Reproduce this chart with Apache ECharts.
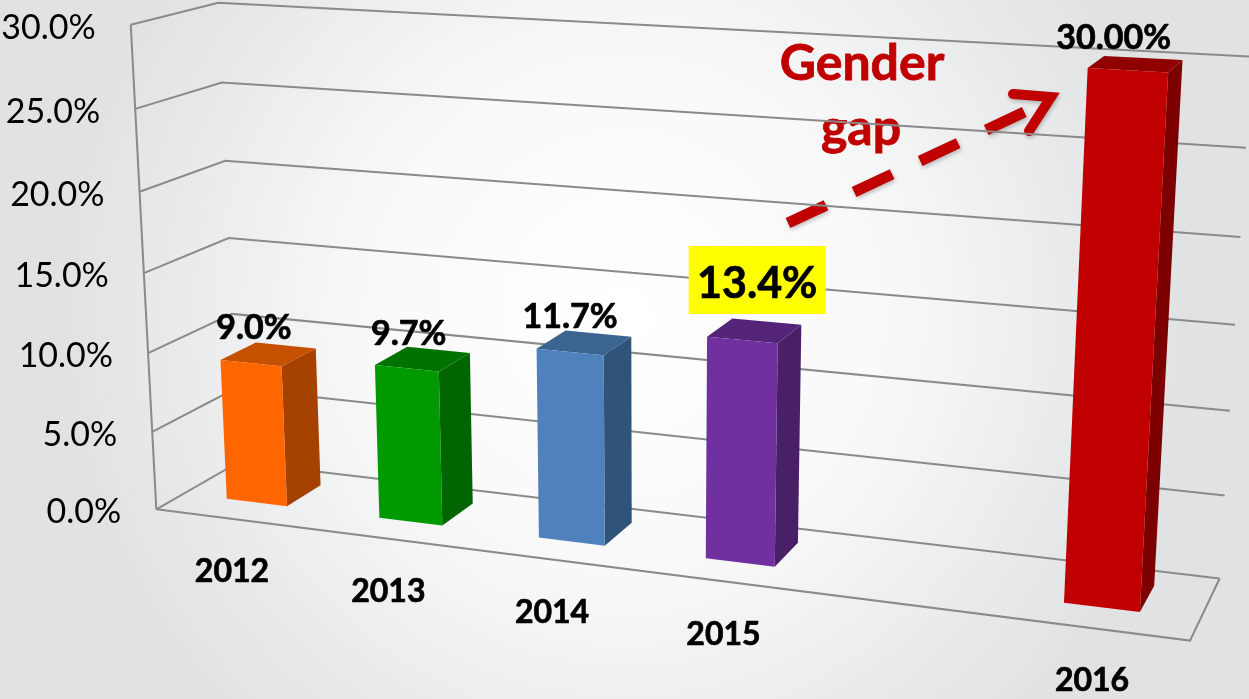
<!DOCTYPE html>
<html><head><meta charset="utf-8">
<style>html,body{margin:0;padding:0;background:#fff}#c{width:1249px;height:699px}</style>
<script src="https://cdn.jsdelivr.net/npm/echarts@6/dist/echarts.min.js"></script>
</head><body><div id="c"></div>
<script>
const categories = ['2012','2013','2014','2015','','2016'];
const values = [9.0, 9.7, 11.7, 13.4, null, 30.0];
const valueLabels = ['9.0%','9.7%','11.7%','13.4%','','30.00%'];
const yTicks = [0,5,10,15,20,25,30];
const yTickLabels = ['0.0%','5.0%','10.0%','15.0%','20.0%','25.0%','30.0%'];

const W = 1249, H = 699, FONT = 'Lato, Carlito, sans-serif';
const faceColors = ['#FF6600','#009900','#4F81BD','#7030A0',null,'#C00000'];
const sideColors = ['#A64200','#006400','#305379','#491F68',null,'#7C0000'];
const topColors  = ['#C45000','#007200','#3C6491','#542478',null,'#900000'];
const labelShift = [[3,-35],[2,-34],[0,-35],[15,-56],null,[-14,-32]];

// Perspective camera: cube corners (x,y,z in 0..1) to where they appear on the page.
const camera = [
 [0,0,0,158,508],[0,0,0,158,508],[1,0,0,1190,643],[0,0,1,235,465],[1,0,1,1220,576],
 [0,1,0,129,25],[0,1,0,129,25],[0,1,1,222,2],[1,1,1,1251,57]
];
function solve(A,b){const n=b.length;for(let i=0;i<n;i++){let p=i;for(let r=i+1;r<n;r++)if(Math.abs(A[r][i])>Math.abs(A[p][i]))p=r;
 [A[i],A[p]]=[A[p],A[i]];[b[i],b[p]]=[b[p],b[i]];
 for(let r=i+1;r<n;r++){const f=A[r][i]/A[i][i];for(let c=i;c<n;c++)A[r][c]-=f*A[i][c];b[r]-=f*b[i];}}
 const x=new Array(n).fill(0);for(let i=n-1;i>=0;i--){let s=b[i];for(let c=i+1;c<n;c++)s-=A[i][c]*x[c];x[i]=s/A[i][i];}return x;}
function fitCamera(pts){const rows=[],rhs=[];
 pts.forEach(([X,Y,Z,u0,v0])=>{const u=u0/1000,v=v0/1000;
  rows.push([X,Y,Z,1,0,0,0,0,-u*X,-u*Y,-u*Z]);rhs.push(u);
  rows.push([0,0,0,0,X,Y,Z,1,-v*X,-v*Y,-v*Z]);rhs.push(v);});
 const N=Array.from({length:11},()=>new Array(11).fill(0)),B=new Array(11).fill(0);
 rows.forEach((r,k)=>{for(let i=0;i<11;i++){B[i]+=r[i]*rhs[k];for(let j=0;j<11;j++)N[i][j]+=r[i]*r[j];}});
 return solve(N,B);}
const M = fitCamera(camera);
function project(X,Y,Z){const d=M[8]*X+M[9]*Y+M[10]*Z+1;
 return [1000*(M[0]*X+M[1]*Y+M[2]*Z+M[3])/d,1000*(M[4]*X+M[5]*Y+M[6]*Z+M[7])/d];}
// hidden cartesian grid fills the page, so its pixels normalise to cube units
function toCube(api,cat,val){const p=api.coord([cat,val]);return [p[0]/W,1-p[1]/H];}

const Z_FRONT=0.325, Z_BACK=0.76, BAR_FRAC=0.40, BAR_SHIFT=-0.002;
const lineStyle={stroke:'#8A8A8A',lineWidth:2,fill:null};
const heavy={stroke:'#000',lineWidth:0.7};

function renderFrame(params,api){
 const t=api.value(1), y=toCube(api,0,t)[1];
 const kids=[{type:'polyline',shape:{points:[project(0,y,0),project(0,y,1),project(1,y,1)]},style:lineStyle}];
 if(t===0){
  kids.push({type:'polyline',shape:{points:[project(0,0,0),project(1,0,0),project(1,0,1)]},style:lineStyle});
  kids.push({type:'line',shape:{x1:project(0,0,0)[0],y1:project(0,0,0)[1],x2:project(0,1,0)[0],y2:project(0,1,0)[1]},style:lineStyle});
 }
 const a=project(0,y,0);
 kids.push({type:'text',style:{x:a[0]-35,y:a[1]+3,text:yTickLabels[params.dataIndex],align:'right',verticalAlign:'middle',font:'34px '+FONT,fill:'#000'}});
 return {type:'group',children:kids};
}
function renderBar(params,api){
 const i=api.value(0), v=api.value(1);
 const bw=api.size([1,0])[0]/W*BAR_FRAC;
 const X=toCube(api,i,0)[0]+BAR_SHIFT, yb=toCube(api,i,0)[1], yt=toCube(api,i,v)[1];
 const x0=X-bw/2,x1=X+bw/2,z0=Z_FRONT,z1=Z_BACK;
 const poly=(pts,fill)=>({type:'polygon',shape:{points:pts},style:{fill:fill}});
 const kids=[
  poly([project(x1,yb,z0),project(x1,yb,z1),project(x1,yt,z1),project(x1,yt,z0)],sideColors[i]),
  poly([project(x0,yt,z0),project(x1,yt,z0),project(x1,yt,z1),project(x0,yt,z1)],topColors[i]),
  poly([project(x0,yb,z0),project(x1,yb,z0),project(x1,yt,z0),project(x0,yt,z0)],faceColors[i])
 ];
 const c=project(X,yt,z0), sh=labelShift[i], lx=c[0]+sh[0], ly=c[1]+sh[1];
 if(i===3) kids.push({type:'rect',shape:{x:lx-68.5,y:ly-38,width:137,height:68},style:{fill:'#FFFF00'}});
 kids.push({type:'text',style:Object.assign({x:lx,y:ly,text:valueLabels[i],align:'center',verticalAlign:'middle',font:'bold '+(i===3?43:34)+'px '+FONT,fill:'#000'},heavy)});
 return {type:'group',children:kids};
}
function renderCat(params,api){
 const i=api.value(0), X=toCube(api,i,0)[0], a=project(X,0,0);
 return {type:'text',style:Object.assign({x:a[0],y:a[1]+53,text:categories[i],align:'center',verticalAlign:'middle',font:'bold 32px '+FONT,fill:'#000'},heavy)};
}
const barData=values.map((v,i)=>[i,v]).filter(d=>d[1]!==null);

const chart=echarts.init(document.getElementById('c'),null,{renderer:'canvas'});
chart.setOption({
 animation:false,
 backgroundColor:new echarts.graphic.RadialGradient(0.5,0.45,0.8,[
  {offset:0,color:'#FFFFFF'},{offset:0.45,color:'#F9F9F9'},{offset:1,color:'#E0E2E4'}]),
 grid:{left:0,right:0,top:0,bottom:0},
 xAxis:{type:'category',data:categories,show:false},
 yAxis:{type:'value',min:0,max:30,interval:5,show:false},
 graphic:{elements:[
  {type:'text',silent:true,style:{x:862,y:64,text:'Gender',align:'center',verticalAlign:'middle',font:'bold 50px '+FONT,fill:'#C00000',stroke:'#C00000',lineWidth:0.8}},
  {type:'text',silent:true,style:{x:861,y:129,text:'gap',align:'center',verticalAlign:'middle',font:'bold 50px '+FONT,fill:'#C00000',stroke:'#C00000',lineWidth:0.8}},
  {type:'polyline',silent:true,shape:{points:[[788,223],[1033,108]]},
   style:{stroke:'#C00000',lineWidth:11,lineDash:[42,31],fill:null,shadowBlur:4,shadowColor:'rgba(0,0,0,0.25)',shadowOffsetX:1,shadowOffsetY:2}},
  {type:'polyline',silent:true,shape:{points:[[1013,94],[1051,97],[1029,131]]},
   style:{stroke:'#C00000',lineWidth:10,lineCap:'round',lineJoin:'miter',fill:null,shadowBlur:4,shadowColor:'rgba(0,0,0,0.25)',shadowOffsetX:1,shadowOffsetY:2}}
 ]},
 series:[
  {type:'custom',silent:true,clip:false,z:1,renderItem:renderFrame,data:yTicks.map(t=>[0,t])},
  {type:'custom',silent:true,clip:false,z:2,renderItem:renderBar,data:barData},
  {type:'custom',silent:true,clip:false,z:3,renderItem:renderCat,data:barData}
 ]
});
</script></body></html>
